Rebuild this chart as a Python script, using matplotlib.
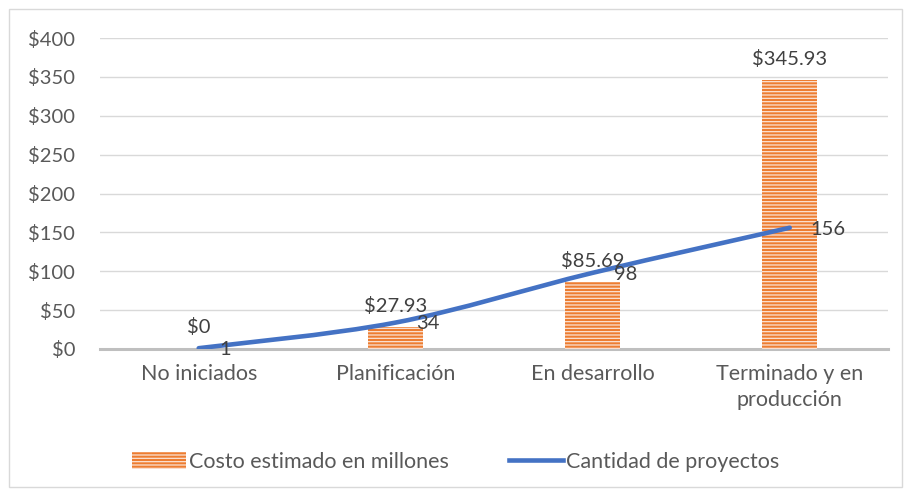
import matplotlib.pyplot as plt
from matplotlib.path import Path
from matplotlib.patches import PathPatch, Rectangle
from matplotlib.lines import Line2D
import numpy as np

categories = ["No iniciados", "Planificación", "En desarrollo", "Terminado y en\nproducción"]
costo = [0, 27.93, 85.69, 345.93]
proyectos = [1, 34, 98, 156]
yticks = [0, 50, 100, 150, 200, 250, 300, 350, 400]

ORANGE = "#ED7D31"
BLUE = "#4472C4"
TEXT = "#595959"

plt.rcParams["font.family"] = ["Lato", "DejaVu Sans"]
plt.rcParams["hatch.linewidth"] = 0.9

fig = plt.figure(figsize=(9.11, 4.95), dpi=100)
ax = fig.add_axes([0.11, 0.295, 0.865, 0.628])

x = np.arange(len(categories))
ax.bar(x, costo, width=0.28, color=ORANGE, edgecolor="#FBE3D4", linewidth=0,
       hatch="-----", zorder=2)

# smoothed line (Catmull-Rom -> bezier), like Excel's smooth line
pts = np.column_stack([x, proyectos]).astype(float)
ext = np.vstack([pts[0], pts, pts[-1]])
verts = [tuple(pts[0])]
codes = [Path.MOVETO]
for i in range(1, len(ext) - 2):
    p0, p1, p2, p3 = ext[i - 1], ext[i], ext[i + 1], ext[i + 2]
    c1 = p1 + (p2 - p0) / 6
    c2 = p2 - (p3 - p1) / 6
    verts += [tuple(c1), tuple(c2), tuple(p2)]
    codes += [Path.CURVE4] * 3
ax.add_patch(PathPatch(Path(verts, codes), fill=False, edgecolor=BLUE,
                       linewidth=3.3, capstyle="round", zorder=3))

for xi, v in zip(x, costo):
    ax.annotate(f"${v:g}" if v == 0 else f"${v:.2f}", (xi, v), xytext=(0, 9),
                textcoords="offset points", ha="center", va="bottom",
                fontsize=14.5, color="#404040", zorder=4)
for xi, v in zip(x, proyectos):
    ax.annotate(f"{v}", (xi, v), xytext=(15, -1), textcoords="offset points",
                ha="left", va="center", fontsize=14.5, color="#404040", zorder=4)

ax.set_xlim(-0.5, len(categories) - 0.5)
ax.set_ylim(0, 400)
ax.set_yticks(yticks)
ax.set_yticklabels([f"${t}" for t in yticks], fontsize=14.5)
ax.set_xticks(x)
ax.set_xticklabels(categories, fontsize=15.5, linespacing=1.35)
ax.tick_params(axis="both", length=0, labelcolor=TEXT)
ax.tick_params(axis="y", pad=18)
ax.tick_params(axis="x", pad=11)
ax.grid(axis="y", color="#D9D9D9", linewidth=1, zorder=0)
ax.set_axisbelow(True)
for s in ["top", "right", "left"]:
    ax.spines[s].set_visible(False)
ax.spines["bottom"].set_color("#BFBFBF")
ax.spines["bottom"].set_linewidth(2.2)
ax.spines["bottom"].set_zorder(1)

handles = [
    Rectangle((0, 0), 1, 1, facecolor=ORANGE, edgecolor="#FBE3D4", linewidth=0, hatch="-----"),
    Line2D([], [], color=BLUE, linewidth=3.3),
]
fig.legend(handles, ["Costo estimado en millones", "Cantidad de proyectos"],
           loc="center", bbox_to_anchor=(0.5, 0.067), ncol=2, frameon=False,
           fontsize=15.5, labelcolor=TEXT, handlelength=2.5, handleheight=0.8,
           handletextpad=0.15, columnspacing=2.8)

fig.patches.append(Rectangle((0.01, 0.016), 0.98, 0.966, transform=fig.transFigure,
                             fill=False, edgecolor="#D9D9D9", linewidth=1))

fig.savefig("out.png", dpi=100)
